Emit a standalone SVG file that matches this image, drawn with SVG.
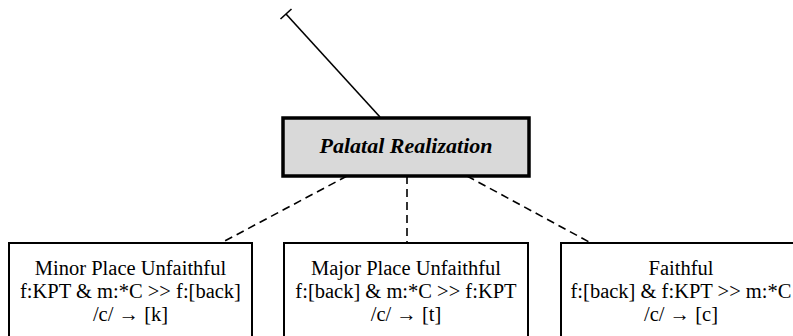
<svg xmlns="http://www.w3.org/2000/svg" width="793" height="336" viewBox="0 0 793 336">
  <style>
    .box { fill: #ffffff; stroke: #000000; stroke-width: 2; }
    .root { fill: #d9d9d9; stroke: #000000; stroke-width: 3.5; }
    .lbl { font-family: 'Liberation Serif', Tinos, 'Times New Roman', Times, 'DejaVu Serif', serif; font-size: 20.5px; fill: #000000; text-anchor: middle; }
    .title { font-family: 'Liberation Serif', Tinos, 'Times New Roman', Times, 'DejaVu Serif', serif; font-size: 22px; font-weight: bold; font-style: italic; fill: #000000; text-anchor: middle; }
    .dash { fill: none; stroke: #000000; stroke-width: 1.6; stroke-dasharray: 8 5; }
    .solid { fill: none; stroke: #000000; stroke-width: 1.6; }
  </style>

  <g id="connectors">
    <line class="solid" x1="380" y1="117" x2="286" y2="14"/>
    <line class="solid" x1="280.5" y1="19" x2="291.5" y2="9"/>
    <line class="dash" x1="347" y1="176" x2="221" y2="243"/>
    <line class="dash" x1="407" y1="176" x2="407" y2="243"/>
    <line class="dash" x1="467" y1="176" x2="591" y2="243"/>
  </g>

  <g id="palatal-realization">
    <rect class="root" x="283" y="118" width="246" height="58"/>
    <text class="title" x="406" y="153">Palatal Realization</text>
  </g>

  <g id="minor-place-unfaithful">
    <rect class="box" x="9" y="243" width="243" height="100"/>
    <text class="lbl" x="130.5" y="275">Minor Place Unfaithful</text>
    <text class="lbl" x="130.5" y="298">f:KPT &amp; m:*C &gt;&gt; f:[back]</text>
    <text class="lbl" x="130.5" y="321">/c/ → [k]</text>
  </g>

  <g id="major-place-unfaithful">
    <rect class="box" x="284" y="243" width="244" height="100"/>
    <text class="lbl" x="406" y="275">Major Place Unfaithful</text>
    <text class="lbl" x="406" y="298">f:[back] &amp; m:*C &gt;&gt; f:KPT</text>
    <text class="lbl" x="406" y="321">/c/ → [t]</text>
  </g>

  <g id="faithful">
    <rect class="box" x="561" y="243" width="245" height="100"/>
    <text class="lbl" x="681" y="275">Faithful</text>
    <text class="lbl" x="681" y="298">f:[back] &amp; f:KPT &gt;&gt; m:*C</text>
    <text class="lbl" x="681" y="321">/c/ → [c]</text>
  </g>
</svg>
